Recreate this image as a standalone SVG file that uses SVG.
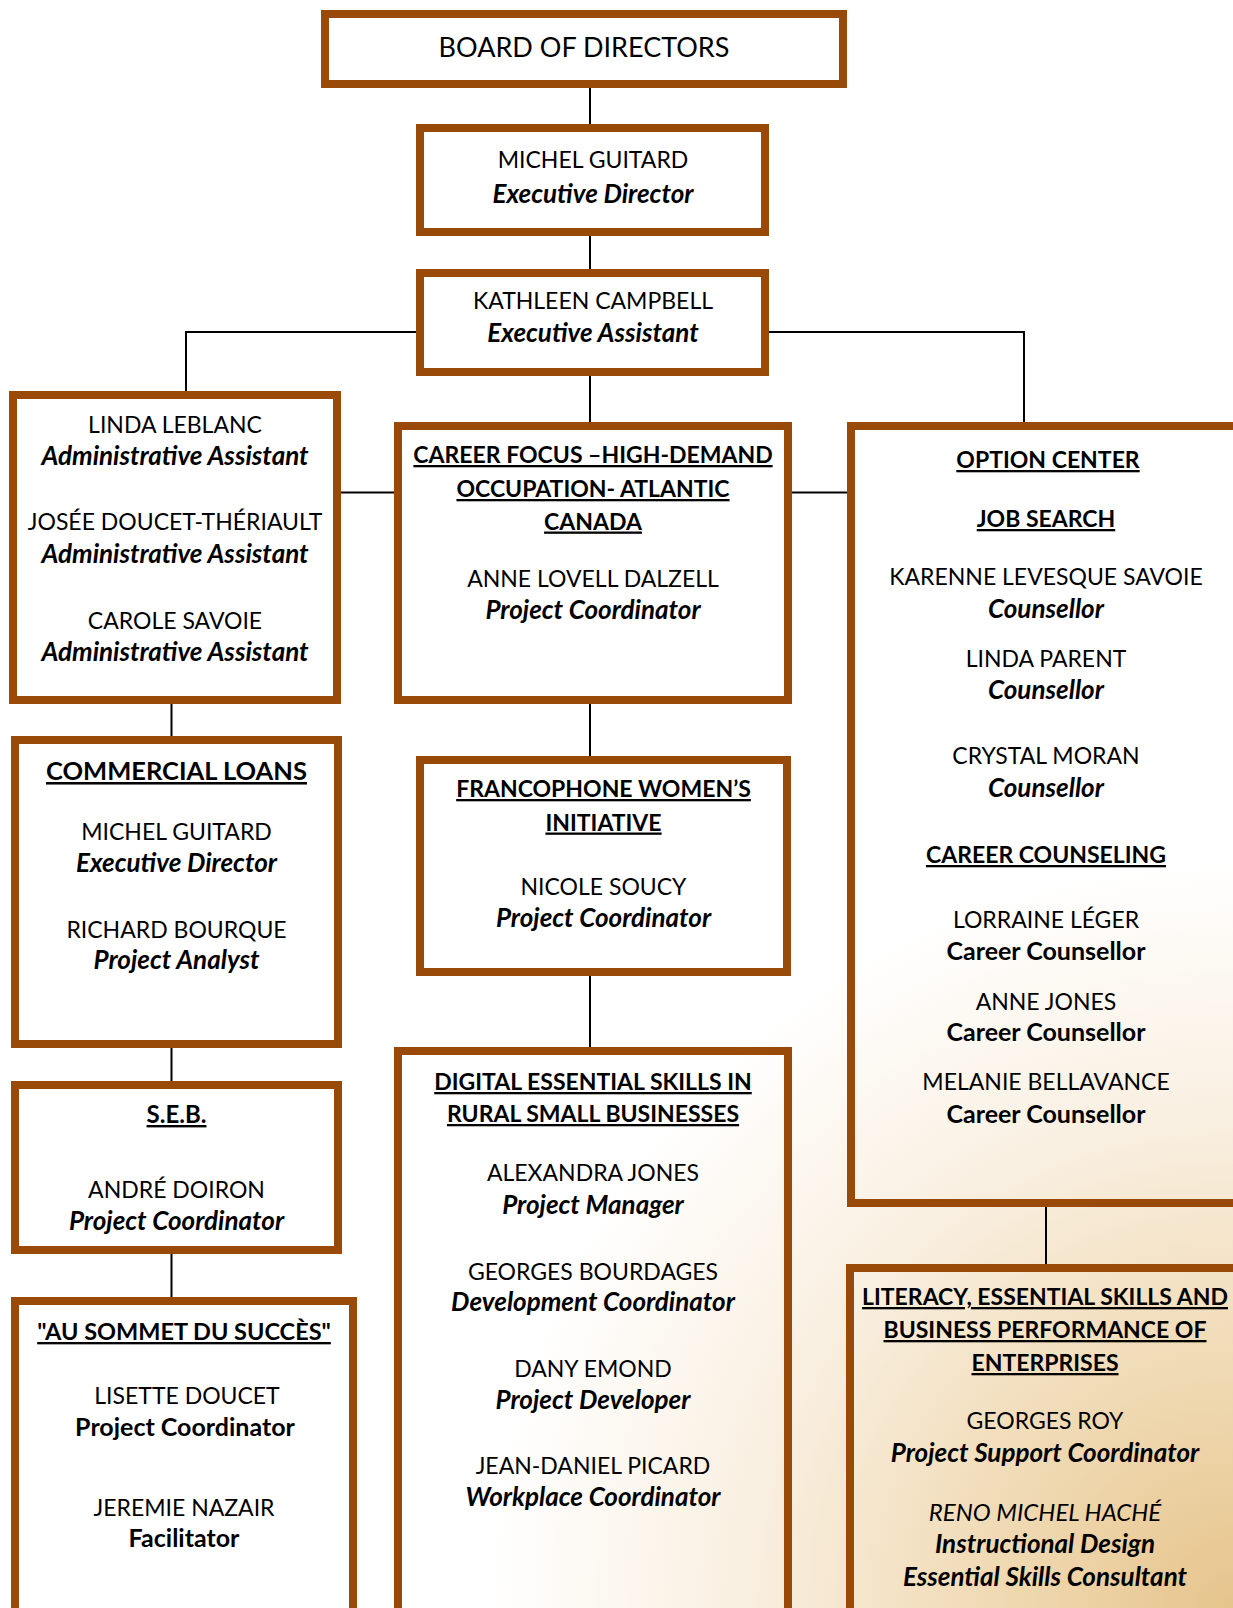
<svg xmlns="http://www.w3.org/2000/svg" width="1233" height="1608" viewBox="0 0 1233 1608">
<defs>
<radialGradient id="bg" gradientUnits="userSpaceOnUse" cx="1233" cy="1608" r="880">
<stop offset="0" stop-color="#e6c48c"/>
<stop offset="0.25" stop-color="#efd8b0"/>
<stop offset="0.55" stop-color="#f9efe0"/>
<stop offset="0.85" stop-color="#ffffff"/>
</radialGradient>
<style>
.box{fill:none;stroke:#994a08;stroke-width:8}
.ln{fill:none;stroke:#000;stroke-width:2}
text{font-family:Lato,"Liberation Sans",sans-serif;font-size:23px;text-anchor:middle;fill:#000}
.t{font-weight:bold;font-style:italic;font-size:26px}
.h{font-weight:bold;text-decoration:underline;font-size:23px}
.b{font-weight:bold;font-size:25px}
.i{font-style:italic;font-size:24px}
.big{font-size:27px}
.hb{font-size:25.5px}
</style>
</defs>
<rect width="1233" height="1608" fill="#fff"/>
<rect width="1233" height="1608" fill="url(#bg)"/>
<g id="connectors">
<path class="ln" d="M590 88V125"/>
<path class="ln" d="M590 235V269"/>
<path class="ln" d="M590 376V422"/>
<path class="ln" d="M416 332H186V391"/>
<path class="ln" d="M769 332H1024V422"/>
<path class="ln" d="M341 492.5H394"/>
<path class="ln" d="M792 492.5H847"/>
<path class="ln" d="M171.5 704V736"/>
<path class="ln" d="M590 704V756"/>
<path class="ln" d="M171.5 1048V1081"/>
<path class="ln" d="M590 976V1047"/>
<path class="ln" d="M171.5 1254V1297"/>
<path class="ln" d="M1046 1207V1264"/>
</g>
<g id="board">
<rect class="box" x="325" y="14" width="518" height="70"/>
<text class="big" x="584" y="57">BOARD OF DIRECTORS</text>
</g>
<g id="executive-director">
<rect class="box" x="420" y="128" width="345" height="104"/>
<text x="593" y="168">MICHEL GUITARD</text>
<text class="t" x="593" y="203">Executive Director</text>
</g>
<g id="executive-assistant">
<rect class="box" x="420" y="273" width="345" height="99"/>
<text x="593" y="309">KATHLEEN CAMPBELL</text>
<text class="t" x="593" y="342">Executive Assistant</text>
</g>
<g id="admin">
<rect class="box" x="13" y="395" width="324" height="305"/>
<text x="175" y="433">LINDA LEBLANC</text>
<text class="t" x="175" y="465">Administrative Assistant</text>
<text x="175" y="530">JOSÉE DOUCET-THÉRIAULT</text>
<text class="t" x="175" y="563">Administrative Assistant</text>
<text x="175" y="629">CAROLE SAVOIE</text>
<text class="t" x="175" y="661">Administrative Assistant</text>
</g>
<g id="career-focus">
<rect class="box" x="398" y="426" width="390" height="274"/>
<text class="h" x="593" y="463">CAREER FOCUS –HIGH-DEMAND</text>
<text class="h" x="593" y="497">OCCUPATION- ATLANTIC</text>
<text class="h" x="593" y="529.5">CANADA</text>
<text x="593" y="587">ANNE LOVELL DALZELL</text>
<text class="t" x="593" y="619">Project Coordinator</text>
</g>
<g id="option-center">
<rect class="box" x="851" y="426" width="400" height="777"/>
<text class="h" x="1048" y="468">OPTION CENTER</text>
<text class="h" x="1046" y="527">JOB SEARCH</text>
<text x="1046" y="585">KARENNE LEVESQUE SAVOIE</text>
<text class="t" x="1046" y="618">Counsellor</text>
<text x="1046" y="667">LINDA PARENT</text>
<text class="t" x="1046" y="699">Counsellor</text>
<text x="1046" y="764">CRYSTAL MORAN</text>
<text class="t" x="1046" y="797">Counsellor</text>
<text class="h" x="1046" y="863">CAREER COUNSELING</text>
<text x="1046" y="928">LORRAINE LÉGER</text>
<text class="b" x="1046" y="959.5">Career Counsellor</text>
<text x="1046" y="1009.5">ANNE JONES</text>
<text class="b" x="1046" y="1040.5">Career Counsellor</text>
<text x="1046" y="1090">MELANIE BELLAVANCE</text>
<text class="b" x="1046" y="1123">Career Counsellor</text>
</g>
<g id="commercial-loans">
<rect class="box" x="15" y="740" width="323" height="304"/>
<text class="h hb" x="176.5" y="780">COMMERCIAL LOANS</text>
<text x="176.5" y="840">MICHEL GUITARD</text>
<text class="t" x="176.5" y="872">Executive Director</text>
<text x="176.5" y="937.5">RICHARD BOURQUE</text>
<text class="t" x="176.5" y="969">Project Analyst</text>
</g>
<g id="francophone">
<rect class="box" x="420" y="760" width="367" height="212"/>
<text class="h" x="603.5" y="797">FRANCOPHONE WOMEN’S</text>
<text class="h" x="603.5" y="830.5">INITIATIVE</text>
<text x="603.5" y="895">NICOLE SOUCY</text>
<text class="t" x="603.5" y="926.5">Project Coordinator</text>
</g>
<g id="seb">
<rect class="box" x="15" y="1085" width="323" height="165"/>
<text class="h" x="176.5" y="1123" style="font-size:24px">S.E.B.</text>
<text x="176.5" y="1198">ANDRÉ DOIRON</text>
<text class="t" x="176.5" y="1230">Project Coordinator</text>
</g>
<g id="au-sommet">
<rect class="box" x="15" y="1301" width="338" height="320"/>
<text class="h" x="184" y="1340" style="font-size:23.5px">"AU SOMMET DU SUCCÈS"</text>
<text x="187" y="1403.5">LISETTE DOUCET</text>
<text class="b" x="185" y="1435.5">Project Coordinator</text>
<text x="184" y="1516">JEREMIE NAZAIR</text>
<text class="b" x="184" y="1547">Facilitator</text>
</g>
<g id="digital">
<rect class="box" x="398" y="1051" width="390" height="570"/>
<text class="h" x="593" y="1090">DIGITAL ESSENTIAL SKILLS IN</text>
<text class="h" x="593" y="1122">RURAL SMALL BUSINESSES</text>
<text x="593" y="1181">ALEXANDRA JONES</text>
<text class="t" x="593" y="1213.5">Project Manager</text>
<text x="593" y="1279.5">GEORGES BOURDAGES</text>
<text class="t" x="593" y="1311">Development Coordinator</text>
<text x="593" y="1377">DANY EMOND</text>
<text class="t" x="593" y="1409">Project Developer</text>
<text x="593" y="1474">JEAN-DANIEL PICARD</text>
<text class="t" x="593" y="1506">Workplace Coordinator</text>
</g>
<g id="literacy">
<rect class="box" x="850" y="1268" width="400" height="352"/>
<text class="h" x="1045" y="1305">LITERACY, ESSENTIAL SKILLS AND</text>
<text class="h" x="1045" y="1338">BUSINESS PERFORMANCE OF</text>
<text class="h" x="1045" y="1371">ENTERPRISES</text>
<text x="1045" y="1428.5">GEORGES ROY</text>
<text class="t" x="1045" y="1461.5">Project Support Coordinator</text>
<text class="i" x="1045" y="1521">RENO MICHEL HACHÉ</text>
<text class="t" x="1045" y="1553">Instructional Design</text>
<text class="t" x="1045" y="1586">Essential Skills Consultant</text>
</g>
</svg>
